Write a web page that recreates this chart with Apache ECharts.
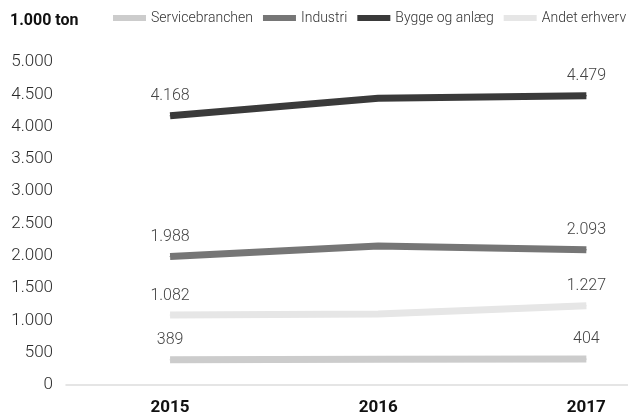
<!DOCTYPE html>
<html><head><meta charset="utf-8">
<script src="https://cdn.jsdelivr.net/npm/echarts@6/dist/echarts.min.js"></script>
<style>html,body{margin:0;padding:0;background:#fff}#c{width:628px;height:416px}</style>
</head><body><div id="c"></div>
<script>
const years = [2015, 2016, 2017];
const seriesNames = ['Servicebranchen', 'Industri', 'Bygge og anlæg', 'Andet erhverv'];
const servicebranchen = [389, 400, 404];
const industri = [1988, 2150, 2093];
const bygge = [4168, 4440, 4479];
const andet = [1082, 1100, 1227];
const yTicks = [0, 500, 1000, 1500, 2000, 2500, 3000, 3500, 4000, 4500, 5000];
const colors = ['#cccccc', '#767676', '#3a3a3a', '#e6e6e6'];

function fmt(v){ return String(v).replace(/\B(?=(\d{3})+(?!\d))/g, '.'); }
const all = [servicebranchen, industri, bygge, andet];
const chart = echarts.init(document.getElementById('c'));
chart.setOption({
  animation: false,
  textStyle: {fontFamily: 'Roboto'},
  title: {text: '1.000 ton', left: 10, top: 13, padding: 0, textStyle: {fontSize: 16, fontWeight: 'bold', color: '#111', fontFamily: 'Roboto'}},
  legend: {
    left: 113, top: 11, padding: 0, itemWidth: 33, itemHeight: 6, itemGap: 10, icon: 'rect',
    textStyle: {fontSize: 14, color: '#333', fontWeight: 300, fontFamily: 'Roboto'},
    data: seriesNames
  },
  grid: {left: 66, right: 0, top: 62, bottom: 29},
  xAxis: {
    type: 'value', min: 2014.5, max: 2017.2, interval: 0.5,
    splitLine: {show: false}, axisTick: {show: false},
    axisLine: {show: true, lineStyle: {color: '#dddddd', width: 1.5}},
    axisLabel: {
      margin: 14, fontSize: 17, fontWeight: 'bold', color: '#111', fontFamily: 'Roboto',
      formatter: v => (years.indexOf(Math.round(v*10)/10) >= 0 ? String(Math.round(v)) : ''),
      showMinLabel: true, showMaxLabel: false
    }
  },
  yAxis: {
    type: 'value', min: yTicks[0], max: yTicks[yTicks.length-1], interval: 500,
    splitLine: {show: false}, axisLine: {show: false}, axisTick: {show: false},
    axisLabel: {margin: 13, fontSize: 17, color: '#2a2a2a', fontWeight: 300, fontFamily: 'Roboto', formatter: v => fmt(v)}
  },
  series: seriesNames.map((n, i) => ({
    name: n, type: 'line', color: colors[i],
    showSymbol: true, symbol: 'circle', symbolSize: 1,
    itemStyle: {color: colors[i]},
    lineStyle: {width: 7, color: colors[i], cap: 'butt'},
    data: years.map((y, j) => ({
      value: [y, all[i][j]],
      label: {show: j !== 1}
    })),
    label: {position: 'top', distance: 11, fontSize: 16, color: '#444', fontWeight: 300, fontFamily: 'Roboto',
      formatter: p => fmt(p.value[1])}
  }))
});
</script></body></html>
